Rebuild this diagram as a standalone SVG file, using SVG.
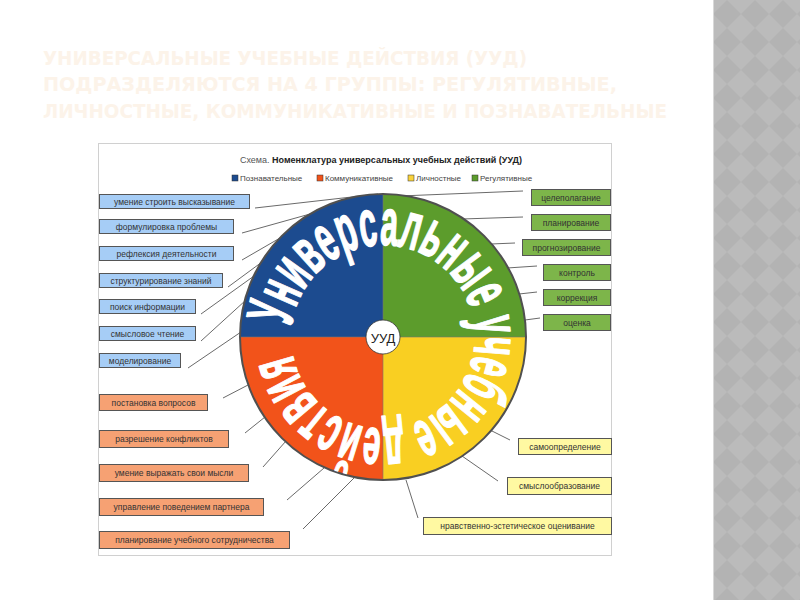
<svg xmlns="http://www.w3.org/2000/svg" width="800" height="600" viewBox="0 0 800 600">
<style>
.title{font-family:"DejaVu Sans","Liberation Sans",sans-serif;font-weight:bold;font-size:19px;fill:#fcf3e9}
.lbl{font-family:"Liberation Sans",Arial,sans-serif;font-size:8.5px;fill:#333;text-anchor:middle;dominant-baseline:central}
.box{stroke:#555;stroke-width:1}
.blue{fill:#a6cdf6}
.red{fill:#f6a173}
.green{fill:#7db54a}
.yellow{fill:#fff9a2}
.con line{stroke:#6a6a6a;stroke-width:1}
.leg{font-family:"Liberation Sans",Arial,sans-serif;font-size:8px;fill:#444}
</style>
<defs>
<pattern id="diam" x="713" y="0" width="28" height="28" patternUnits="userSpaceOnUse">
<rect width="28" height="28" fill="#bbbbbb"/>
<polygon points="14,0 28,14 14,28 0,14" fill="#b3b3b3"/>
</pattern>
<path id="arcPath" d="M291.5,326.4 A92,92 0 0 1 474.5,347.6 A92,92 0 0 1 291.5,326.4"/>
</defs>
<rect width="800" height="600" fill="#ffffff"/>
<rect x="713" y="0" width="87" height="600" fill="url(#diam)"/>
<line x1="713.5" y1="0" x2="713.5" y2="600" stroke="#d8d8d8" stroke-width="1"/>

<g id="title">
<text class="title" x="43" y="65" textLength="484" lengthAdjust="spacingAndGlyphs">УНИВЕРСАЛЬНЫЕ УЧЕБНЫЕ ДЕЙСТВИЯ (УУД)</text>
<text class="title" x="43" y="91" textLength="574" lengthAdjust="spacingAndGlyphs">ПОДРАЗДЕЛЯЮТСЯ НА 4 ГРУППЫ: РЕГУЛЯТИВНЫЕ,</text>
<text class="title" x="43" y="118" textLength="624" lengthAdjust="spacingAndGlyphs">ЛИЧНОСТНЫЕ, КОММУНИКАТИВНЫЕ И ПОЗНАВАТЕЛЬНЫЕ</text>
</g>

<g id="panel">
<rect x="98.5" y="143.5" width="513" height="412" fill="#ffffff" stroke="#d0d0d0" stroke-width="1"/>
<text x="381" y="163" text-anchor="middle" font-family="Liberation Sans, Arial, sans-serif" font-size="9" fill="#555">Схема. <tspan font-weight="bold" fill="#222">Номенклатура универсальных учебных действий (УУД)</tspan></text>
</g>

<g id="legend">
<rect x="232" y="175" width="6" height="6" fill="#1c4b8f" stroke="#333" stroke-width="0.5"/>
<text class="leg" x="240" y="181">Познавательные</text>
<rect x="317" y="175" width="6" height="6" fill="#f2531a" stroke="#333" stroke-width="0.5"/>
<text class="leg" x="325" y="181">Коммуникативные</text>
<rect x="408" y="175" width="6" height="6" fill="#f9d23a" stroke="#333" stroke-width="0.5"/>
<text class="leg" x="416" y="181">Личностные</text>
<rect x="472" y="175" width="6" height="6" fill="#5c9c2c" stroke="#333" stroke-width="0.5"/>
<text class="leg" x="480" y="181">Регулятивные</text>
</g>

<g id="connectors" class="con">
<line x1="255" y1="208" x2="378" y2="194"/>
<line x1="242" y1="233" x2="310" y2="214"/>
<line x1="242" y1="260" x2="280" y2="238"/>
<line x1="228" y1="287" x2="262" y2="262"/>
<line x1="201" y1="314" x2="254" y2="276"/>
<line x1="201" y1="341" x2="246" y2="300"/>
<line x1="188" y1="368" x2="241" y2="332"/>
<line x1="223" y1="398" x2="248" y2="385"/>
<line x1="245" y1="433" x2="265" y2="417"/>
<line x1="263" y1="467" x2="286" y2="441"/>
<line x1="287" y1="500" x2="324" y2="468"/>
<line x1="303" y1="529" x2="355" y2="477"/>
<line x1="400" y1="196" x2="523" y2="191"/>
<line x1="462" y1="219" x2="523" y2="217"/>
<line x1="491" y1="244" x2="515" y2="243"/>
<line x1="507" y1="268" x2="537" y2="266"/>
<line x1="519" y1="294" x2="537" y2="292"/>
<line x1="525" y1="320" x2="540" y2="318"/>
<line x1="490" y1="430" x2="510" y2="440"/>
<line x1="462" y1="456" x2="498" y2="481"/>
<line x1="406" y1="480" x2="418" y2="518"/>
</g>

<g id="wheel">
<path d="M383,337 L383,194 A143,143 0 0 0 240,337 Z" fill="#1c4b8f"/>
<path d="M383,337 L526,337 A143,143 0 0 0 383,194 Z" fill="#5c9c2c"/>
<path d="M383,337 L240,337 A143,143 0 0 0 383,480 Z" fill="#f2531a"/>
<path d="M383,337 L383,480 A143,143 0 0 0 526,337 Z" fill="#f9cf22"/>
<line x1="383" y1="194" x2="383" y2="480" stroke="#777" stroke-width="0.6"/>
<line x1="240" y1="337" x2="526" y2="337" stroke="#777" stroke-width="0.6"/>
<circle cx="383" cy="337" r="143" fill="none" stroke="#505050" stroke-width="2"/>
<text font-family="Liberation Sans, Arial, sans-serif" font-weight="bold" font-size="66" fill="#ffffff" stroke="#ffffff" stroke-width="1.6" stroke-linejoin="round"><textPath href="#arcPath" textLength="550" lengthAdjust="spacingAndGlyphs">Универсальные учебные действия</textPath></text>
</g>

<g id="center">
<circle cx="383" cy="337" r="17" fill="#ffffff" stroke="#333" stroke-width="0.8"/>
<text x="383" y="338" text-anchor="middle" dominant-baseline="central" font-family="Liberation Sans, Arial, sans-serif" font-size="13" fill="#222">УУД</text>
</g>

<g id="b1"><rect class="box blue" x="99.5" y="194.5" width="150" height="14"/><text class="lbl" x="174.5" y="201.5">умение строить высказывание</text></g>
<g id="b2"><rect class="box blue" x="99.5" y="219.5" width="134" height="14"/><text class="lbl" x="166.5" y="226.5">формулировка проблемы</text></g>
<g id="b3"><rect class="box blue" x="99.5" y="246.5" width="134" height="14"/><text class="lbl" x="166.5" y="253.5">рефлексия деятельности</text></g>
<g id="b4"><rect class="box blue" x="99.5" y="273.5" width="123" height="14"/><text class="lbl" x="161" y="280.5">структурирование знаний</text></g>
<g id="b5"><rect class="box blue" x="99.5" y="299.5" width="96" height="14"/><text class="lbl" x="147.5" y="306.5">поиск информации</text></g>
<g id="b6"><rect class="box blue" x="99.5" y="326.5" width="96" height="14"/><text class="lbl" x="147.5" y="333.5">смысловое чтение</text></g>
<g id="b7"><rect class="box blue" x="99.5" y="353.5" width="81" height="14"/><text class="lbl" x="140" y="360.5">моделирование</text></g>

<g id="r1"><rect class="box red" x="99.5" y="394.5" width="108" height="16"/><text class="lbl" x="153.5" y="402.5">постановка вопросов</text></g>
<g id="r2"><rect class="box red" x="99.5" y="430.5" width="129" height="17"/><text class="lbl" x="164" y="439">разрешение конфликтов</text></g>
<g id="r3"><rect class="box red" x="99.5" y="464.5" width="149" height="17"/><text class="lbl" x="174" y="473">умение выражать свои мысли</text></g>
<g id="r4"><rect class="box red" x="99.5" y="498.5" width="164" height="17"/><text class="lbl" x="181.5" y="507">управление поведением партнера</text></g>
<g id="r5"><rect class="box red" x="99.5" y="531.5" width="190" height="17"/><text class="lbl" x="194.5" y="540">планирование учебного сотрудничества</text></g>

<g id="g1"><rect class="box green" x="531.5" y="189.5" width="79" height="16"/><text class="lbl" x="571" y="197.5">целеполагание</text></g>
<g id="g2"><rect class="box green" x="531.5" y="214.5" width="79" height="16"/><text class="lbl" x="571" y="222.5">планирование</text></g>
<g id="g3"><rect class="box green" x="522.5" y="239.5" width="88" height="16"/><text class="lbl" x="566.5" y="247.5">прогнозирование</text></g>
<g id="g4"><rect class="box green" x="543.5" y="264.5" width="67" height="16"/><text class="lbl" x="577" y="272.5">контроль</text></g>
<g id="g5"><rect class="box green" x="543.5" y="289.5" width="67" height="16"/><text class="lbl" x="577" y="297.5">коррекция</text></g>
<g id="g6"><rect class="box green" x="543.5" y="314.5" width="67" height="16"/><text class="lbl" x="577" y="322.5">оценка</text></g>

<g id="y1"><rect class="box yellow" x="518.5" y="438.5" width="93" height="16"/><text class="lbl" x="565" y="446.5">самоопределение</text></g>
<g id="y2"><rect class="box yellow" x="507.5" y="477.5" width="104" height="17"/><text class="lbl" x="559.5" y="486">смыслообразование</text></g>
<g id="y3"><rect class="box yellow" x="423.5" y="517.5" width="188" height="17"/><text class="lbl" x="517.5" y="526">нравственно-эстетическое оценивание</text></g>
</svg>
